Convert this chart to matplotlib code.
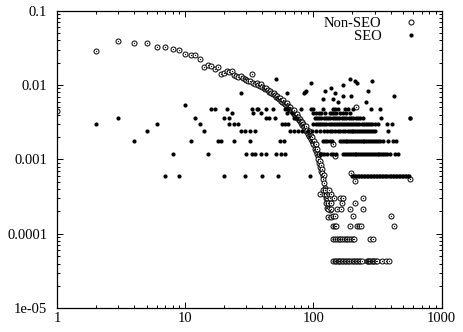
import matplotlib
matplotlib.use("Agg")
import matplotlib.pyplot as plt
from matplotlib.lines import Line2D

plt.rcParams['font.family'] = ['Liberation Serif', 'DejaVu Serif']

# Non-SEO: main curve (one point per rank)
nonseo_x = [1, 2, 3, 4, 5, 6, 7, 8, 9, 10, 11, 12, 13, 14, 15, 16, 17, 18, 19, 20,
            21, 22, 23, 24, 25, 26, 27, 28, 29, 30, 31, 32, 33, 34, 35, 36, 37, 38, 39, 40,
            41, 42, 43, 44, 45, 46, 47, 48, 49, 50, 51, 52, 53, 54, 55, 56, 57, 58, 59, 60,
            61, 62, 63, 64, 65, 66, 67, 68, 69, 70, 71, 72, 73, 74, 75, 76, 77, 78, 79, 80,
            81, 82, 83, 84, 85, 86, 87, 88, 89, 90, 91, 92, 93, 94, 95, 96, 97, 98, 99, 100,
            101, 102, 103, 104, 105, 106, 107, 108, 109, 110, 111, 112, 113, 114, 115, 116,
            117, 118, 119, 120, 121, 122, 123, 124, 125, 126, 127, 128, 130, 132, 134, 137]
nonseo_y = [0.0045, 0.029, 0.0388, 0.0372, 0.0372, 0.0325, 0.0325, 0.0303, 0.0294, 0.0262,
            0.0254, 0.025, 0.0222, 0.0175, 0.0185, 0.018, 0.0165, 0.0174, 0.0141, 0.0146,
            0.0155, 0.0149, 0.0155, 0.0136, 0.0131, 0.0128, 0.0133, 0.0124, 0.0120, 0.0118,
            0.0112, 0.0115, 0.0141, 0.0108, 0.0104, 0.0106, 0.0100, 0.0098, 0.0102, 0.0094,
            0.0092, 0.0088, 0.0090, 0.0085, 0.0082, 0.0084, 0.0079, 0.0076, 0.0078, 0.0073,
            0.0070, 0.0072, 0.0067, 0.0065, 0.0068, 0.0062, 0.0060, 0.0063, 0.0058, 0.0056,
            0.0054, 0.0057, 0.0052, 0.0050, 0.0048, 0.0051, 0.0046, 0.0045, 0.0043, 0.0046,
            0.0041, 0.0040, 0.0038, 0.0041, 0.0036, 0.0037, 0.0034, 0.0035, 0.0033, 0.0031,
            0.0032, 0.0029, 0.0030, 0.0028, 0.0027, 0.0026, 0.0028, 0.0024, 0.0025, 0.0023,
            0.0022, 0.0024, 0.0021, 0.0020, 0.0021, 0.0019, 0.0018, 0.0020, 0.0017, 0.0016,
            0.0018, 0.0015, 0.0014, 0.0016, 0.0013, 0.0012, 0.0014, 0.0011, 0.0010, 0.0012,
            0.0009, 0.00095, 0.0008, 0.00085, 0.0007, 0.00075, 0.00065, 0.0006, 0.00055,
            0.00062, 0.00048, 0.00042, 0.00035, 0.00039, 0.00030, 0.00026, 0.00022, 0.00030,
            0.00017, 0.00026, 0.00021, 0.00017]

# Non-SEO: tail beyond the drop
nonseo_tail_x = [142, 146, 150, 154, 158, 162, 166, 170, 175, 180, 185, 190, 196, 202, 208,
                 214, 220, 226, 232, 238, 260, 266, 272, 278, 285, 292, 299, 306, 313, 342,
                 366, 387,
                 142, 147, 152, 157, 162, 167, 172, 178, 184, 190, 196, 202, 208, 276, 290,
                 141, 146, 151, 192, 218, 225, 235, 425,
                 142, 147, 202, 402,
                 129, 138, 152, 163, 192, 242,
                 129, 137, 166, 210,
                 134, 145, 161, 170, 242,
                 112, 120, 126, 133, 138,
                 118, 124, 131,
                 142, 147, 197, 210, 216, 564]
nonseo_tail_y = [4.3e-5] * 32 + [8.6e-5] * 15 + [1.29e-4] * 8 + [1.72e-4] * 4 + \
                [2.15e-4] * 6 + [2.58e-4] * 4 + [3.0e-4] * 5 + [3.44e-4] * 5 + \
                [3.9e-4] * 3 + [0.0016, 0.0011, 0.00066, 0.00051, 0.005, 0.00054]

# SEO: quantised levels
seo_levels = [0.0006, 0.0012, 0.0018, 0.0024, 0.003, 0.0036, 0.0042, 0.0048]
seo_rows = [
    [7, 9, 20, 29, 40, 53, 94, 200, 205, 210, 216, 222, 228, 234, 240, 247, 254, 261,
     268, 275, 283, 291, 299, 307, 315, 324, 333, 342, 351, 361, 371, 381, 392, 403,
     414, 425, 437, 449, 461, 474, 487, 500, 514, 528, 543, 558],
    [8, 15, 30, 33, 35, 39, 43, 51, 56, 60, 112, 116, 120, 127, 137, 142, 150, 170,
     176, 182, 188, 195, 202, 209, 216, 224, 232, 240, 248, 257, 266, 275, 285, 295,
     305, 316, 327, 338, 350, 362, 375, 395, 432, 458],
    [4, 11, 18, 19, 24, 32, 55, 59, 118, 122, 128, 134, 140, 161, 166, 172, 178, 184,
     190, 197, 204, 211, 218, 226, 234, 242, 250, 259, 268, 278, 288, 298, 308, 319,
     330, 346, 380, 417, 440],
    [5, 14, 27, 29, 32, 35, 66, 70, 76, 82, 90, 98, 105, 112, 120, 128, 134, 140, 147,
     155, 162, 170, 176, 185, 191, 198, 205, 212, 220, 228, 236, 245, 254, 263, 272,
     282, 292, 300, 380],
    [2, 6, 13, 22, 24, 26, 57, 60, 63, 100, 104, 108, 112, 116, 121, 126, 131, 136,
     141, 146, 152, 158, 164, 170, 176, 183, 190, 197, 204, 212, 220, 228, 237, 246,
     255, 264, 274, 284, 300, 316, 373, 408],
    [3, 12, 20, 22, 45, 50, 70, 75, 102, 106, 110, 115, 120, 125, 130, 135, 141, 147,
     153, 159, 166, 173, 180, 188, 196, 204, 213, 222, 232, 243, 338, 564],
    [23, 34, 39, 62, 68, 100, 105, 110, 115, 122, 135, 140, 145, 150, 160, 170, 180,
     192],
    [16, 17, 21, 33, 37, 43, 48, 60, 63, 80, 95, 100, 118, 142, 148, 155, 176, 186,
     202, 280, 330],
]
seo_extra_x = [10, 27, 36, 43, 51, 62, 84, 86, 88, 96, 118, 124, 136, 142, 147, 155, 169,
               170, 192, 196, 210, 217, 256, 266, 288, 425, 564]
seo_extra_y = [0.0054, 0.0078, 0.0047, 0.0036, 0.0121, 0.0078, 0.0078, 0.0082, 0.0084,
               0.0108, 0.0066, 0.0084, 0.0091, 0.0066, 0.0078, 0.0060, 0.0072, 0.0100,
               0.0120, 0.0072, 0.0115, 0.0108, 0.0060, 0.0084, 0.0115, 0.0072, 0.0036]

fig = plt.figure(figsize=(4.63, 3.32), dpi=100)
ax = fig.add_axes([0.1231, 0.0714, 0.8309, 0.8964])

circle_style = dict(linestyle='none', marker='o', ms=3.6, mfc='white', mec='black', mew=0.7)
dot_style = dict(linestyle='none', marker='o', ms=3.0, mfc='black', mec='black', mew=0)

ax.plot(nonseo_x, nonseo_y, **circle_style)
ax.plot(nonseo_tail_x, nonseo_tail_y, **circle_style)
ax.plot(nonseo_x, nonseo_y, linestyle='none', marker='o', ms=0.9, color='black', mew=0)
ax.plot(nonseo_tail_x, nonseo_tail_y, linestyle='none', marker='o', ms=0.9, color='black', mew=0)

for level, row in zip(seo_levels, seo_rows):
    ax.plot(row, [level] * len(row), **dot_style)
ax.plot(seo_extra_x, seo_extra_y, **dot_style)

ax.set_xscale('log')
ax.set_yscale('log')
ax.set_xlim(1, 1000)
ax.set_ylim(1e-5, 0.1)
ax.set_xticks([1, 10, 100, 1000])
ax.set_xticklabels(['1', '10', '100', '1000'])
ax.set_yticks([1e-5, 1e-4, 1e-3, 1e-2, 1e-1])
ax.set_yticklabels(['1e-05', '0.0001', '0.001', '0.01', '0.1'])

ax.tick_params(which='both', direction='in', top=True, right=True, width=0.7, labelsize=10.5)
ax.tick_params(which='major', length=4)
ax.tick_params(which='minor', length=2)
ax.tick_params(axis='x', pad=3)
ax.tick_params(axis='y', pad=7)
for s in ax.spines.values():
    s.set_linewidth(0.9)

# legend: text first, marker to the right, no frame
legend_marks = [
    Line2D([], [], **circle_style),
    Line2D([], [], **dot_style),
]
ax.legend(legend_marks, ['Non-SEO', 'SEO'], loc='upper right', markerfirst=False,
          frameon=False, fontsize=10.5, handlelength=1.5, handletextpad=1.3,
          labelspacing=0.0, borderaxespad=0.0, bbox_to_anchor=(0.965, 1.0))

fig.savefig('out.png', dpi=100)
